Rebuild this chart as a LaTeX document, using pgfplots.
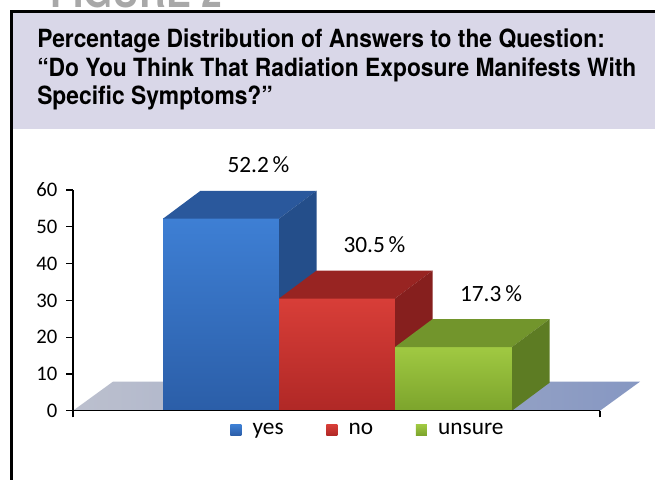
\documentclass[border=0pt]{standalone}
\usepackage{fontspec}
\usepackage{pgfplots}
\usepackage{pgfplotstable}
\pgfplotsset{compat=1.18}
\newfontfamily\titlefont[FakeStretch=0.91]{TeX Gyre Heros}
\newfontfamily\carlito{Carlito}
\definecolor{panel}{RGB}{217,215,232}
\definecolor{figgray}{RGB}{168,168,168}
\definecolor{bluetopc}{RGB}{62,127,212}
\definecolor{bluebotc}{RGB}{43,94,168}
\definecolor{bluetop}{RGB}{42,88,156}
\definecolor{blueside}{RGB}{36,78,138}
\definecolor{redtopc}{RGB}{216,62,56}
\definecolor{redbotc}{RGB}{176,40,38}
\definecolor{redtop}{RGB}{152,36,34}
\definecolor{redside}{RGB}{134,31,30}
\definecolor{grntopc}{RGB}{160,201,66}
\definecolor{grnbotc}{RGB}{124,164,44}
\definecolor{grntop}{RGB}{114,149,44}
\definecolor{grnside}{RGB}{93,124,35}
\definecolor{floorl}{RGB}{188,192,206}
\definecolor{floorr}{RGB}{134,151,194}

\pgfplotstableread{
cat value
yes 52.2
no 30.5
unsure 17.3
}\answers
\pgfplotstablegetelem{0}{value}\of\answers \let\vyes\pgfplotsretval
\pgfplotstablegetelem{1}{value}\of\answers \let\vno\pgfplotsretval
\pgfplotstablegetelem{2}{value}\of\answers \let\vun\pgfplotsretval
\def\ddy{7.6}
\pgfmathsetmacro\yesb{\vyes+\ddy}
\pgfmathsetmacro\nob{\vno+\ddy}
\pgfmathsetmacro\unb{\vun+\ddy}

\begin{document}
\begin{tikzpicture}[x=0.75pt,y=0.75pt]
\path[use as bounding box] (0,0) rectangle (655,479);
\clip (0,0) rectangle (655,479);
\fill[white] (0,0) rectangle (655,479);
% panel
\fill[panel] (13,350) rectangle (655,466);
\draw[black, line width=2.25pt] (11.5,-2) -- (11.5,467.5) -- (657,467.5);
\node[anchor=base west, inner sep=0pt, text=figgray, font=\titlefont\bfseries\fontsize{30.7}{32}\selectfont] at (50,471) {FIGURE 2};
\node[anchor=base west, inner sep=0pt, font=\titlefont\bfseries\fontsize{18.8}{22}\selectfont] at (37,431.7) {Percentage Distribution of Answers to the Question:};
\node[anchor=base west, inner sep=0pt, font=\titlefont\bfseries\fontsize{18.8}{22}\selectfont] at (37,402.5) {“Do You Think That Radiation Exposure Manifests With};
\node[anchor=base west, inner sep=0pt, font=\titlefont\bfseries\fontsize{18.8}{22}\selectfont] at (37,374.5) {Specific Symptoms?”};
\begin{axis}[
  at={(54.75pt,51.225pt)}, anchor=origin,
  scale only axis, width=395.25pt, height=165.5pt,
  xmin=0, xmax=527, ymin=0, ymax=60,
  enlargelimits=false, clip=false, axis on top,
  axis x line*=bottom, axis y line*=left,
  axis line style={black, line width=1.1pt},
  xtick={0,527}, xticklabels={},
  ytick={0,10,...,60},
  tick align=outside, major tick length=5pt,
  tick style={black, line width=0.9pt},
  /pgf/number format/assume math mode=true,
  tick label style={font=\carlito\fontsize{15.5}{17}\selectfont},
  yticklabel style={inner xsep=0pt, xshift=-6.5pt},
  legend columns=3,
  legend style={draw=none, fill=none, inner sep=0pt, at={(0.298,-0.0874)}, anchor=west,
    font=\carlito\fontsize{17.5}{19}\selectfont,
    /tikz/every even column/.append style={column sep=30pt},
    /tikz/every odd column/.append style={column sep=6.5pt}},
  legend image code/.code={\fill[#1] (0pt,-4.1pt) rectangle (8.25pt,4.1pt);},
  nodes near coords={\pgfmathprintnumber[fixed,fixed zerofill,precision=1]{\pgfplotspointmeta}\,\%},
  every node near coord/.append style={anchor=base, xshift=28.1pt, yshift=34.5pt,
    font=\carlito\fontsize{17.5}{19}\selectfont, text=black},
]
% floor
\addplot[draw=none, left color=floorl, right color=floorr, forget plot, nodes near coords={}] coordinates {(0,0) (527,0) (567,7.9) (40,7.9)} -- cycle;
% yes
\addplot[ybar, bar width=116, draw=none, top color=bluetopc, bottom color=bluebotc] coordinates {(148,\vyes)};
\addplot[draw=none, fill=bluetop, forget plot, nodes near coords={}] coordinates {(90,\vyes) (206,\vyes) (243.5,\yesb) (127.5,\yesb)} -- cycle;
\addplot[draw=none, fill=blueside, forget plot, nodes near coords={}] coordinates {(206,0) (206,\vyes) (243.5,\yesb) (243.5,\ddy)} -- cycle;
% no
\addplot[ybar, bar width=116, draw=none, top color=redtopc, bottom color=redbotc] coordinates {(264,\vno)};
\addplot[draw=none, fill=redtop, forget plot, nodes near coords={}] coordinates {(206,\vno) (322,\vno) (359.5,\nob) (243.5,\nob)} -- cycle;
\addplot[draw=none, fill=redside, forget plot, nodes near coords={}] coordinates {(322,0) (322,\vno) (359.5,\nob) (359.5,\ddy)} -- cycle;
% unsure
\addplot[ybar, bar width=117, draw=none, top color=grntopc, bottom color=grnbotc] coordinates {(380.5,\vun)};
\addplot[draw=none, fill=grntop, forget plot, nodes near coords={}] coordinates {(322,\vun) (439,\vun) (476.5,\unb) (359.5,\unb)} -- cycle;
\addplot[draw=none, fill=grnside, forget plot, nodes near coords={}] coordinates {(439,0) (439,\vun) (476.5,\unb) (476.5,\ddy)} -- cycle;
\legend{yes,no,unsure}
\end{axis}
\end{tikzpicture}
\end{document}
